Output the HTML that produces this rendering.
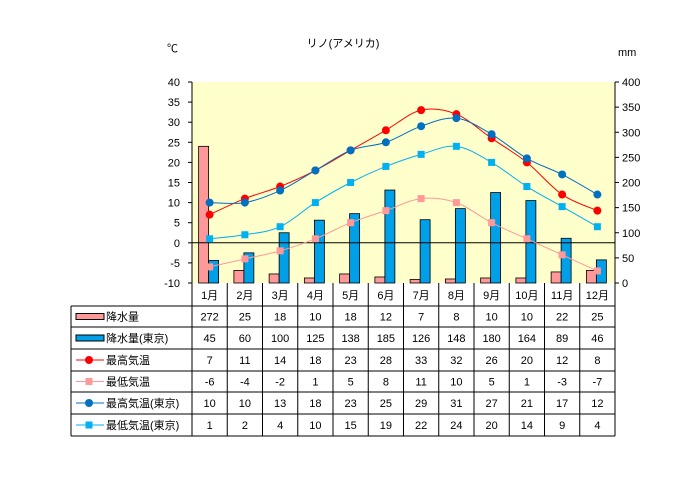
<!DOCTYPE html>
<html><head><meta charset="utf-8"><style>
body{margin:0;background:#fff;font-family:"Liberation Sans","Noto Sans CJK JP",sans-serif;}
svg text{font-family:"Liberation Sans","Noto Sans CJK JP",sans-serif;font-size:11px;fill:#000;}
</style></head><body>
<svg id="c" width="694" height="487" xmlns="http://www.w3.org/2000/svg"></svg>
<script>
const months=["1月","2月","3月","4月","5月","6月","7月","8月","9月","10月","11月","12月"];
const precip=[272,25,18,10,18,12,7,8,10,10,22,25];
const precipTokyo=[45,60,100,125,138,185,126,148,180,164,89,46];
const hi=[7,11,14,18,23,28,33,32,26,20,12,8];
const lo=[-6,-4,-2,1,5,8,11,10,5,1,-3,-7];
const hiTokyo=[10,10,13,18,23,25,29,31,27,21,17,12];
const loTokyo=[1,2,4,10,15,19,22,24,20,14,9,4];
const tempTicks=[40,35,30,25,20,15,10,5,0,-5,-10];
const mmTicks=[400,350,300,250,200,150,100,50,0];
const tablePrinted=[precip,precipTokyo,hi,lo,hiTokyo,loTokyo];

const NS="http://www.w3.org/2000/svg",svg=document.getElementById('c');
function el(t,a,p){const e=document.createElementNS(NS,t);for(const k in a)e.setAttribute(k,a[k]);(p||svg).appendChild(e);return e;}
const X0=192,X1=615,Y0=82,Y1=283,cw=(X1-X0)/12;
const yT=v=>Y1-(v+10)/50*(Y1-Y0);
const yM=v=>Y1-v/400*(Y1-Y0);
const xC=i=>X0+cw*(i+0.5);

let e=el('rect',{x:X0,y:Y0,width:X1-X0,height:Y1-Y0,fill:'#ffffcc'});

e=el('text',{x:343,y:47,'text-anchor':'middle'});e.textContent='リノ(アメリカ)';

e=el('text',{x:167,y:52});e.textContent='℃';

e=el('text',{x:618,y:56});e.textContent='mm';


tempTicks.forEach(t=>{e=el('text',{x:180,y:yT(t)+4,'text-anchor':'end'});e.textContent=t;

el('line',{x1:X0-4,x2:X0,y1:yT(t),y2:yT(t),stroke:'#000'});});
mmTicks.forEach(t=>{e=el('text',{x:622,y:yM(t)+4});e.textContent=t;

el('line',{x1:X1,x2:X1+4,y1:yM(t),y2:yM(t),stroke:'#000'});});

months.forEach((m,i)=>{
 e=el('rect',{x:xC(i)-11,y:yM(precip[i]),width:10,height:Y1-yM(precip[i]),fill:'#ff9999',stroke:'#000','stroke-width':0.8});
 
 e=el('rect',{x:xC(i)-1,y:yM(precipTokyo[i]),width:10,height:Y1-yM(precipTokyo[i]),fill:'#00a0e9',stroke:'#000','stroke-width':0.8});
 
});
el('line',{x1:X0,x2:X1,y1:yT(0),y2:yT(0),stroke:'#000'});
el('line',{x1:X0,x2:X0,y1:Y0,y2:Y1,stroke:'#000'});
el('line',{x1:X1,x2:X1,y1:Y0,y2:Y1,stroke:'#000'});

function smooth(pts){let d='M'+pts[0].join(',');for(let i=0;i<pts.length-1;i++){const p0=pts[i-1]||pts[i],p1=pts[i],p2=pts[i+1],p3=pts[i+2]||p2;
 d+=` C${p1[0]+(p2[0]-p0[0])/6},${p1[1]+(p2[1]-p0[1])/6} ${p2[0]-(p3[0]-p1[0])/6},${p2[1]-(p3[1]-p1[1])/6} ${p2[0]},${p2[1]}`;}return d;}
const series=[[hi,'#ff0000','c','high-temp'],[lo,'#ff9999','s','low-temp'],[hiTokyo,'#0070c0','c','high-temp-tokyo'],[loTokyo,'#00b0f0','s','low-temp-tokyo']];
series.forEach(([arr,col,mk,nm])=>{
 const pts=arr.map((v,i)=>[xC(i),yT(v)]);
 e=el('path',{d:smooth(pts),fill:'none',stroke:col,'stroke-width':1});
 
 pts.forEach(p=>{e=mk=='c'?el('circle',{cx:p[0],cy:p[1],r:4,fill:col}):el('rect',{x:p[0]-3.5,y:p[1]-3.5,width:7,height:7,fill:col});
 });
});

// table
const rows=[306,327,349,371,392,414,436];
const gl={stroke:'#000','stroke-width':1};
el('line',Object.assign({x1:X0,x2:X0,y1:Y1,y2:436},gl));
for(let i=1;i<=12;i++)el('line',Object.assign({x1:X0+cw*i,x2:X0+cw*i,y1:Y1,y2:436},gl));
el('line',Object.assign({x1:71,x2:71,y1:306,y2:436},gl));
rows.forEach(y=>el('line',Object.assign({x1:71,x2:X1,y1:y,y2:y},gl)));
months.forEach((m,i)=>{e=el('text',{x:xC(i),y:299,'text-anchor':'middle'});e.textContent=m;
 });
const names=['降水量','降水量(東京)','最高気温','最低気温','最高気温(東京)','最低気温(東京)'];
tablePrinted.forEach((arr,r)=>{
 const cy=(rows[r]+rows[r+1])/2;
 arr.forEach((v,i)=>{e=el('text',{x:xC(i),y:cy+4,'text-anchor':'middle'});e.textContent=v;
  });
 if(r<2){el('rect',{x:76,y:cy-3,width:28,height:6,fill:r?'#00a0e9':'#ff9999',stroke:'#000'});}
 else{const s=series[r-2];el('line',{x1:76,x2:104,y1:cy,y2:cy,stroke:s[1]});
  if(s[2]=='c')el('circle',{cx:89,cy:cy,r:4,fill:s[1]});else el('rect',{x:85.5,y:cy-3.5,width:7,height:7,fill:s[1]});}
 e=el('text',{x:106,y:cy+4});e.textContent=names[r];
 
});
</script>
</body></html>
